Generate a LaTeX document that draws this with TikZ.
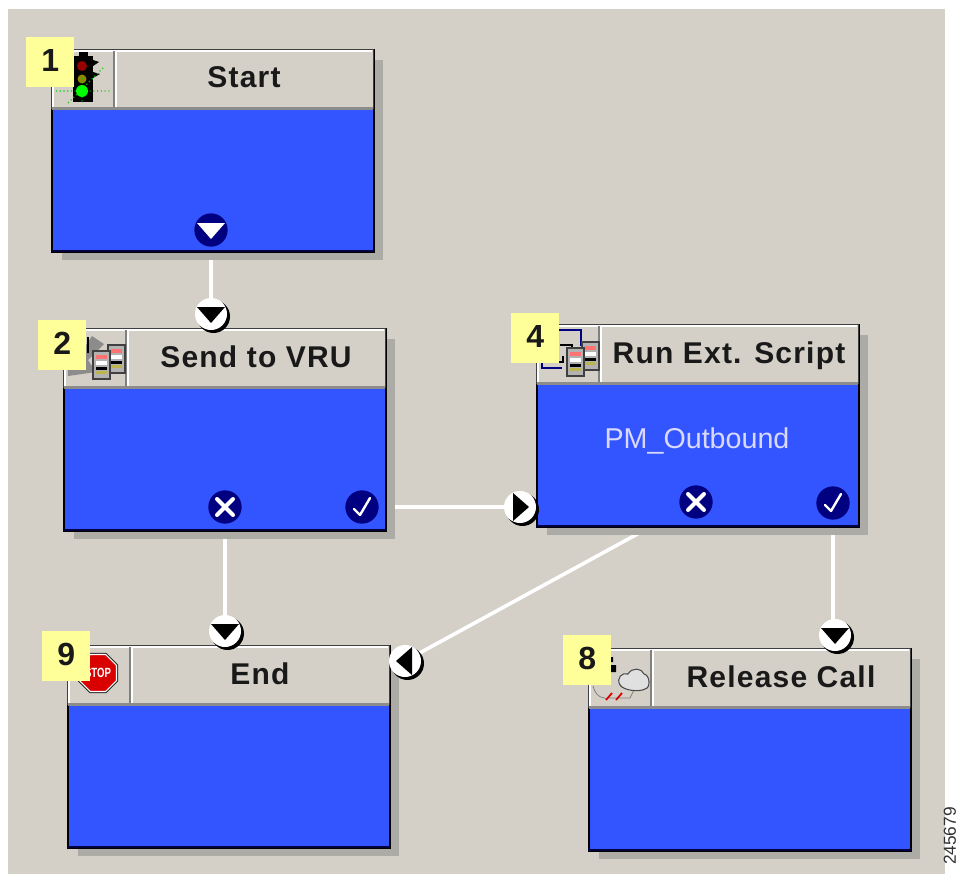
\documentclass[tikz,border=0pt]{standalone}
\usepackage{fontspec}
\usepackage{graphicx}
\setmainfont{Liberation Sans}
\newfontfamily\titlefont[LetterSpace=4]{Liberation Sans}
\usetikzlibrary{shapes.geometric}
\pgfdeclarelayer{background}
\pgfsetlayers{background,main}
\definecolor{panelgray}{HTML}{D4D0C8}
\definecolor{blockblue}{HTML}{3355FF}
\definecolor{tagyellow}{HTML}{FFFF99}
\definecolor{portnavy}{HTML}{000080}
\definecolor{shadowgray}{HTML}{ADABA6}
\tikzset{
    x=0.75pt, y=-0.75pt,
    blockbody/.style={draw=black, line width=1.3pt, fill=blockblue, anchor=north west, inner sep=0pt, minimum width=241.5pt, minimum height=151.5pt},
    blockhead/.style={draw=black!75, line width=0.8pt, fill=panelgray, anchor=north west, inner sep=0pt, minimum width=241.5pt, minimum height=44pt},
    blocktitle/.style={font=\titlefont\bfseries\fontsize{22.5}{24}\selectfont, text=black!90, inner sep=0pt, anchor=base},
    tagbox/.style={fill=tagyellow, anchor=north west, inner sep=0pt, minimum width=36pt, minimum height=37.5pt, font=\bfseries\fontsize{24}{24}\selectfont, text=black!90},
    portin/.style={circle, fill=white, inner sep=0pt, minimum size=24pt},
    portout/.style={circle, fill=portnavy, inner sep=0pt, minimum size=25pt},
    wire/.style={draw=white, line width=2.7pt},
    glyph/.style={draw=white, line width=3pt, line cap=round},
    serverbox/.style={fill=black!30, draw=black!75, line width=0.9pt}
}
\begin{document}
\begin{tikzpicture}
    \useasboundingbox (0,0) rectangle (959,874);
    \begin{pgfonlayer}{background}
        \fill[white] (0,0) rectangle (959,874);
        \fill[panelgray] (8,9) rectangle (945,874);
    \end{pgfonlayer}
    \foreach \id/\x/\y/\title in {start/51/49/Start, send/63/328/Send to VRU, run/536/324/Run Ext. Script, end/67/645/End, release/588/648/Release Call} {
        \begin{scope}[shift={(\x,\y)}]
            \fill[shadowgray] (11,11) rectangle (332,211);
            \node[blockbody] (\id) at (0,0) {};
            \node[blockhead] (\id head) at (0,0) {};
            \fill[black!45] (1,58) rectangle (322,61);
            \draw[portnavy!50!black, line width=1.3pt] (0,202) -- (323,202);
            \draw[white, line width=0.9pt] (2,58) -- (2,2) -- (321,2);
            \draw[black!50, line width=0.9pt] (63,2) -- (63,58);
            \draw[white, line width=0.9pt] (65,2) -- (65,58);
            \node[blocktitle] (\id title) at (193,39) {\title};
        \end{scope}
    }

    \node[text=blue!15!white, font=\fontsize{21.5}{24}\selectfont, inner sep=0pt] (script) at (697,441) {PM\_Outbound};

    \foreach \id/\x/\y in {startout/211/230, sendx/225/507, sendok/362/507, runx/696/502, runok/833/503}
    \node[portout] (\id) at (\x,\y) {};
    \fill[white] (197,223) -- (225,223) -- (211,239) -- cycle;
    \foreach \p in {sendx, runx}
    \draw[glyph] (\p)+(-8,-8) -- +(8,8) (\p)+(-8,8) -- +(8,-8);
    \foreach \p in {sendok, runok}
    \draw[white, line width=1.8pt, line cap=round, line join=round] (\p)+(-8,2) -- +(-2,8) -- +(8,-9);

    \foreach \id/\x/\y/\ang in {sendin/211/314/0, runin/520/507/90, endin/225/631/0, sidein/405/661/-90, releasein/835/635/0} {
        \fill[black] (\x+2.5,\y+2.5) circle[radius=16.5];
        \node[portin] (\id) at (\x,\y) {};
        \fill[black, shift={(\x,\y)}, rotate=\ang] (-14,-7) -- (14,-7) -- (0,9) -- cycle;
    }

    \begin{pgfonlayer}{background}
        \draw[wire] (startout) -- (sendin);
        \draw[wire] (sendx) -- (endin);
        \draw[wire] (sendok) -- (runin);
        \draw[wire] (runx) -- (sidein);
        \draw[wire] (runok) -- (runok |- releasein);
    \end{pgfonlayer}

    % traffic light
    \fill[black] (73,56) rectangle (93,102);
    \fill[black] (79,52) rectangle (88,57);
    \fill[black] (93,60) -- (99,62) -- (93,66) -- cycle (93,72) -- (100,74) -- (93,78) -- cycle;
    \fill[red!60!black] (82,66) circle[radius=5];
    \fill[olive] (82,79) circle[radius=4.5];
    \draw[green!80!black, line width=0.8pt, dotted] (56,91) -- (110,91) (82,78) -- (82,104) (68,103) -- (103,68);
    \fill[green] (82,91) circle[radius=6];

    % arrow and frame behind the servers
    \fill[black!45] (92,336) -- (104,344) -- (88,360) -- (96,372) -- (68,376) -- (67,355) -- (76,360) -- cycle;
    \draw[black, line width=0.9pt] (88,337) -- (88,353);
    \draw[portnavy, line width=1.2pt] (559,330) -- (581,330) -- (581,346);
    \draw[portnavy, line width=1.2pt] (542,360) -- (542,368) -- (562,368);
    \draw[black, line width=0.9pt] (560,345) -- (572,345) -- (572,352) (552,362) -- (563,362) -- (563,356);

    % servers
    \foreach \x/\y in {108/345, 93/351, 582/342, 567/348} {
        \begin{scope}[shift={(\x,\y)}]
            \filldraw[serverbox] (0,0) rectangle (17,28);
            \fill[red!55] (3,4) rectangle (14,8);
            \fill[white] (3,10) rectangle (14,14);
            \fill[black] (3,16) rectangle (14,19);
            \fill[olive!60] (3,20) rectangle (14,23);
        \end{scope}
    }

    % stop sign
    \node[regular polygon, regular polygon sides=8, fill=black!85, minimum size=32.5pt, inner sep=0pt] (stopedge) at (98,673) {};
    \node[regular polygon, regular polygon sides=8, draw=white, fill=red!85!black, line width=0.8pt, minimum size=30pt, inner sep=0pt, text=white, font=\bfseries\fontsize{10}{11}\selectfont] (stop) at (98,673) {\scalebox{0.72}[1]{STOP}};

    % cloud
    \fill[black] (607,657) rectangle (613,662) (610,665) rectangle (616,672);
    \draw[black!50, line width=0.6pt] (593,686) .. controls (596,698) and (604,699) .. (610,698) -- (630,698) -- (634,690);
    \draw[red!85!black, line width=1.3pt] (606,700) -- (612,693) (616,700) -- (622,693);
    \filldraw[fill=black!12, draw=black!70, line width=0.8pt] (620,685) .. controls (616,678) and (622,672) .. (628,674) .. controls (632,667) and (642,668) .. (644,674) .. controls (650,675) and (651,688) .. (645,689) .. controls (640,692) and (624,691) .. (620,685) -- cycle;

    \foreach \id/\x/\y/\num in {tagone/26/37/1, tagtwo/38/320/2, tagfour/511/313/4, tagnine/42/631/9, tageight/563/635/8}
    \node[tagbox, text depth=3pt] (\id) at (\x,\y) {\num\hspace{3pt}};

    \node[rotate=90, inner sep=0pt, text=black!80, font=\fontsize{13}{15}\selectfont] (figno) at (950,836) {245679};
\end{tikzpicture}
\end{document}
